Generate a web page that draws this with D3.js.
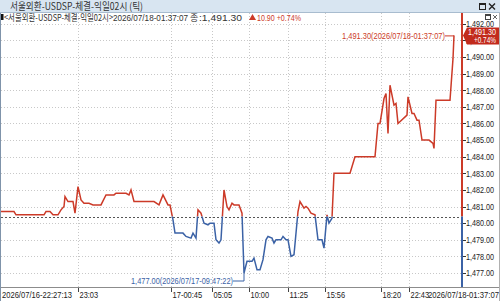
<!DOCTYPE html>
<html>
<head>
<meta charset="utf-8">
<script src="https://cdn.jsdelivr.net/npm/d3@7"></script>
<style>
  body { margin: 0; background: #fff; }
  svg { display: block; }
  .num { font-family: "Liberation Sans", "DejaVu Sans", sans-serif; }
  .kr { font-family: "Noto Sans CJK KR", sans-serif; }
</style>
</head>
<body>
<svg width="500" height="301"></svg>
<script>
// 체결 순번(틱 순서) / 가격
var tickSeq = [0, 13, 15, 43, 45, 49, 52, 57, 60, 63, 64, 67, 72, 74, 77, 80, 83, 88, 92, 100,
  105, 113, 115, 125, 128, 130, 133, 153, 158, 162, 167, 169, 172, 174, 182, 185, 190, 192, 195, 197,
  200, 203, 207, 209, 213, 215, 218, 220, 223, 226, 228, 231, 233, 238, 241, 243, 246, 251, 253, 256,
  259, 262, 265, 267, 271, 273, 275, 280, 282, 285, 287, 290, 293, 297, 299, 303, 305, 307, 310, 314,
  317, 321, 323, 326, 328, 331, 333, 349, 354, 374, 377, 379, 383, 385, 387, 389, 393, 395, 397, 406,
  407, 411, 413, 416, 418, 421, 428, 432, 433, 435, 449, 452, 453];
var price = [1480.7, 1480.7, 1480.5, 1480.5, 1480.7, 1480.7, 1480.5, 1480.5, 1480.8, 1481.0, 1481.6, 1481.3, 1481.3, 1480.6, 1482.2, 1481.4, 1481.2, 1481.2, 1481.1, 1481.1,
  1481.7, 1481.7, 1481.8, 1481.8, 1481.7, 1482.0, 1481.3, 1481.3, 1481.1, 1481.7, 1481.1, 1481.1, 1480.2, 1479.4, 1479.4, 1479.2, 1479.1, 1479.4, 1479.1, 1480.8,
  1480.6, 1480.0, 1479.9, 1480.0, 1480.0, 1479.0, 1478.8, 1479.0, 1482.0, 1481.0, 1480.8, 1481.2, 1481.1, 1481.1, 1480.6, 1477.0, 1477.7, 1477.7, 1477.9, 1477.2,
  1477.2, 1477.8, 1479.0, 1479.2, 1479.1, 1478.8, 1479.0, 1479.0, 1479.2, 1479.0, 1479.0, 1478.0, 1478.1, 1480.7, 1481.3, 1480.9, 1481.0, 1480.9, 1480.6, 1480.5,
  1479.0, 1479.0, 1478.5, 1480.5, 1480.0, 1480.3, 1483.0, 1483.0, 1484.0, 1484.0, 1486.0, 1486.0, 1487.5, 1487.8, 1485.4, 1488.3, 1487.1, 1487.2, 1486.0, 1486.5,
  1487.6, 1486.6, 1486.6, 1486.2, 1486.2, 1485.0, 1485.0, 1484.8, 1484.5, 1487.4, 1487.4, 1489.9, 1491.3];

var prevClose = 1480.40;
var lastPrice = 1491.30, change = 10.90, changePct = 0.74;
var minIdx = 55, maxIdx = tickSeq.length - 1;
var minTime = "2026/07/17-09:47:22", maxTime = "2026/07/18-01:37:07";

var timeLabels = ["23:03", "17-00:45", "05:05", "10:00", "11:25", "15:56", "18:20", "22:43"];
var timeLabelSeq = [77, 170, 211, 248, 287, 324, 380, 408];
var startLabel = "2026/07/16-22:27:13", endLabel = "2026/07/18-01:37:07";
var priceTicks = d3.range(1477, 1493, 1);

var title = "서울외환-USDSP-체결-익일02시 (틱)";
var infoName = "<서울외환-USDSP-체결-익일02시>";

var RED = "#cc3a28", BLUE = "#3b62a6";

var svg = d3.select("svg");
var plotL = 1, plotR = 462, plotT = 13, plotB = 287;

var x = d3.scaleLinear().domain([0, 461]).range([plotL, plotR]);
var y = d3.scaleLinear().domain([1477, 1490]).range([273, 57]);
var fmt = d3.format(",.2f");
var yBase = y(prevClose);

var data = tickSeq.map(function (s, i) { return { s: s, v: price[i] }; });

// HTS 글꼴이 좁아서 폭을 맞춤
function fit(sel, w) {
  return sel.attr("textLength", w).attr("lengthAdjust", "spacingAndGlyphs");
}
// 글자 수 기준 폭 (숫자 ~3.7px)
function numW(s) { return s.length * 3.72; }

// 배경 그리드
var grid = svg.append("g");
grid.selectAll("line.h").data(priceTicks).enter().append("line")
  .attr("x1", plotL).attr("x2", plotR)
  .attr("y1", function (d) { return Math.round(y(d)) + 0.5; })
  .attr("y2", function (d) { return Math.round(y(d)) + 0.5; })
  .attr("stroke", "#c8c8c8").attr("stroke-dasharray", "1,2");
grid.selectAll("line.v").data(timeLabelSeq).enter().append("line")
  .attr("x1", function (d) { return Math.round(x(d)) + 0.5; })
  .attr("x2", function (d) { return Math.round(x(d)) + 0.5; })
  .attr("y1", plotT).attr("y2", plotB)
  .attr("stroke", "#c8c8c8").attr("stroke-dasharray", "1,2");

// 전일 종가 기준선
svg.append("line")
  .attr("x1", plotL).attr("x2", plotR)
  .attr("y1", Math.round(yBase) + 0.5).attr("y2", Math.round(yBase) + 0.5)
  .attr("stroke", "#555").attr("stroke-dasharray", "2,2");

// 기준선 위/아래 클립
var defs = svg.append("defs");
defs.append("clipPath").attr("id", "up").append("rect")
  .attr("x", 0).attr("y", 0).attr("width", plotR).attr("height", yBase);
defs.append("clipPath").attr("id", "dn").append("rect")
  .attr("x", 0).attr("y", yBase).attr("width", plotR).attr("height", 301 - yBase);

var line = d3.line().x(function (d) { return x(d.s); }).y(function (d) { return y(d.v); });
svg.append("path").datum(data).attr("d", line)
  .attr("fill", "none").attr("stroke", RED).attr("stroke-width", 1.5)
  .attr("clip-path", "url(#up)");
svg.append("path").datum(data).attr("d", line)
  .attr("fill", "none").attr("stroke", BLUE).attr("stroke-width", 1.5)
  .attr("clip-path", "url(#dn)");

// 최고/최저 표시
var mx = data[maxIdx], mn = data[minIdx];
var mxText = fmt(mx.v) + "(" + maxTime + ")";
var mnText = fmt(mn.v) + "(" + minTime + ")";
svg.append("line")
  .attr("x1", x(mx.s) - 9).attr("x2", x(mx.s)).attr("y1", y(mx.v) + 0.5).attr("y2", y(mx.v) + 0.5)
  .attr("stroke", RED);
fit(svg.append("text").attr("class", "num")
  .attr("x", x(mx.s) - 9).attr("y", y(mx.v)).attr("dy", "0.35em")
  .attr("text-anchor", "end").attr("font-size", 9).attr("fill", RED)
  .text(mxText), 103);
svg.append("polyline")
  .attr("points", [[x(mn.s) - 11, y(mn.v) + 8], [x(mn.s), y(mn.v) + 8], [x(mn.s), y(mn.v)]].join(" "))
  .attr("fill", "none").attr("stroke", BLUE);
fit(svg.append("text").attr("class", "num")
  .attr("x", x(mn.s) - 11).attr("y", y(mn.v) + 8).attr("dy", "0.35em")
  .attr("text-anchor", "end").attr("font-size", 9).attr("fill", BLUE)
  .text(mnText), 102);

// 오른쪽 가격축
svg.append("rect").attr("x", plotR + 1).attr("y", plotT).attr("width", 500 - plotR).attr("height", plotB - plotT).attr("fill", "#fff");
svg.append("line").attr("x1", plotR).attr("x2", plotR).attr("y1", plotT).attr("y2", yBase)
  .attr("stroke", RED).attr("stroke-width", 2);
svg.append("line").attr("x1", plotR).attr("x2", plotR).attr("y1", yBase).attr("y2", plotB)
  .attr("stroke", BLUE).attr("stroke-width", 2);
var yAxis = svg.append("g");
yAxis.selectAll("line").data(priceTicks).enter().append("line")
  .attr("x1", plotR + 1).attr("x2", plotR + 4)
  .attr("y1", function (d) { return Math.round(y(d)) + 0.5; })
  .attr("y2", function (d) { return Math.round(y(d)) + 0.5; })
  .attr("stroke", "#333");
fit(yAxis.selectAll("text").data(priceTicks).enter().append("text").attr("class", "num")
  .attr("x", plotR + 32).attr("y", function (d) { return y(d); }).attr("dy", "0.35em")
  .attr("text-anchor", "end").attr("font-size", 9.5).attr("fill", "#222")
  .text(function (d) { return fmt(d); }), 28);

// 현재가 깃발
var fy = y(lastPrice);
svg.append("path")
  .attr("d", "M" + (plotR + 1) + "," + fy + "L" + (plotR + 5) + "," + (fy - 8) + "L499," + (fy - 8) + "L499," + (fy + 9) + "L" + (plotR + 5) + "," + (fy + 9) + "Z")
  .attr("fill", "#c22a1c");
fit(svg.append("text").attr("class", "num").attr("x", 496).attr("y", fy - 3.5).attr("dy", "0.35em")
  .attr("text-anchor", "end").attr("font-size", 9.5).attr("fill", "#fff").text(fmt(lastPrice)), 28);
fit(svg.append("text").attr("class", "num").attr("x", 496).attr("y", fy + 4.5).attr("dy", "0.35em")
  .attr("text-anchor", "end").attr("font-size", 9.5).attr("fill", "#fff").text("+" + d3.format(".2f")(changePct) + "%"), 22);

// 축 영역 창 아이콘
var ic = svg.append("g");
ic.append("rect").attr("x", 483).attr("y", 13).attr("width", 16).attr("height", 8).attr("fill", "#fff");
ic.append("rect").attr("x", 485.5).attr("y", 14.5).attr("width", 5).attr("height", 5).attr("fill", "none").attr("stroke", "#444");
ic.append("line").attr("x1", 485.5).attr("x2", 490.5).attr("y1", 15.5).attr("y2", 15.5).attr("stroke", "#444");
ic.append("path").attr("d", "M493,15L497,19M497,15L493,19").attr("stroke", "#666").attr("stroke-width", 1);

// 하단 시간축
svg.append("rect").attr("x", 0).attr("y", plotB).attr("width", 500).attr("height", 301 - plotB).attr("fill", "#fff");
svg.append("line").attr("x1", 0).attr("x2", 500).attr("y1", plotB + 0.5).attr("y2", plotB + 0.5).attr("stroke", "#8c8c8c");
var xAxis = svg.append("g");
xAxis.selectAll("line").data(timeLabelSeq).enter().append("line")
  .attr("x1", function (d) { return Math.round(x(d)) + 0.5; })
  .attr("x2", function (d) { return Math.round(x(d)) + 0.5; })
  .attr("y1", plotB + 1).attr("y2", plotB + 5).attr("stroke", "#444");
xAxis.selectAll("text").data(timeLabels).enter().append("text").attr("class", "num")
  .attr("x", function (d, i) { return x(timeLabelSeq[i]) + 1.5; })
  .attr("y", 298).attr("font-size", 9.5).attr("fill", "#222")
  .attr("textLength", function (d) { return numW(d); })
  .attr("lengthAdjust", "spacingAndGlyphs")
  .text(function (d) { return d; });
fit(svg.append("text").attr("class", "num").attr("x", 2).attr("y", 298)
  .attr("font-size", 9.5).attr("fill", "#222").text(startLabel), 70);
fit(svg.append("text").attr("class", "num").attr("x", 499).attr("y", 298).attr("text-anchor", "end")
  .attr("font-size", 9.5).attr("fill", "#222").text(endLabel), 71);

// 정보 줄
svg.append("rect").attr("x", 1).attr("y", 14).attr("width", 2.5).attr("height", 6).attr("fill", "#111");
fit(svg.append("text").attr("class", "kr").attr("x", 4).attr("y", 20.5).attr("font-size", 9.5).attr("fill", "#333")
  .text(infoName), 109);
fit(svg.append("text").attr("class", "num").attr("x", 113).attr("y", 20.5).attr("font-size", 9.5).attr("fill", "#333")
  .text(endLabel), 75);
svg.append("text").attr("class", "kr").attr("x", 190).attr("y", 20.5).attr("font-size", 9).attr("fill", "#333").text("종");
fit(svg.append("text").attr("class", "num").attr("x", 199).attr("y", 20.5).attr("font-size", 9.5).attr("fill", "#333")
  .text(":" + fmt(lastPrice)), 43);
// 상승 삼각형
svg.append("path").attr("d", "M249,20L256,20L252.5,14Z").attr("fill", RED);
fit(svg.append("text").attr("class", "num").attr("x", 257).attr("y", 20.5).attr("font-size", 9.5).attr("fill", RED)
  .text(d3.format(".2f")(change) + "  +" + d3.format(".2f")(changePct) + "%"), 44);

// 타이틀 바
svg.append("rect").attr("x", 0).attr("y", 0).attr("width", 500).attr("height", 12).attr("fill", "#d8e5f1");
svg.append("line").attr("x1", 0).attr("x2", 500).attr("y1", 12.5).attr("y2", 12.5).attr("stroke", "#a8bccf");
fit(svg.append("text").attr("class", "kr").attr("x", 10).attr("y", 10).attr("font-size", 10).attr("fill", "#333").text(title), 133);
svg.append("rect").attr("x", 479.5).attr("y", 3.5).attr("width", 6).attr("height", 6).attr("fill", "none").attr("stroke", "#222");
svg.append("line").attr("x1", 479.5).attr("x2", 485.5).attr("y1", 4.5).attr("y2", 4.5).attr("stroke", "#222");
svg.append("path").attr("d", "M489,3.5L495,9.5M495,3.5L489,9.5").attr("stroke", "#222").attr("stroke-width", 1.4);

// 외곽선
svg.append("line").attr("x1", 0.5).attr("x2", 0.5).attr("y1", 13).attr("y2", 301).attr("stroke", "#7f93aa");
svg.append("line").attr("x1", 499.5).attr("x2", 499.5).attr("y1", 13).attr("y2", 301).attr("stroke", "#b0b0b0");
</script>
</body>
</html>
